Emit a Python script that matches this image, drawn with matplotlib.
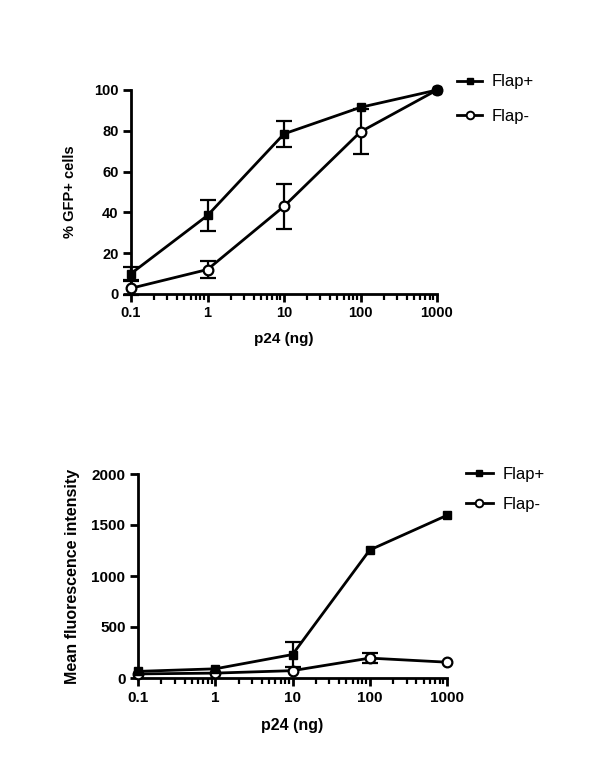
import matplotlib
matplotlib.use("Agg")
import matplotlib.pyplot as plt
from matplotlib.lines import Line2D
from matplotlib.ticker import LogLocator, FixedLocator, NullFormatter

plt.rcParams['font.family'] = ['Liberation Sans', 'DejaVu Sans']

# ---- data ----
doses = [0.1, 1, 10, 100, 1000]
dose_labels = ["0.1", "1", "10", "100", "1000"]

gfp_flap_plus = [10.0, 38.5, 78.5, 91.5, 100.0]
gfp_flap_plus_err = [3.0, 7.5, 6.5, 0.0, 0.0]
gfp_flap_minus = [2.8, 12.0, 43.0, 79.5, 100.0]
gfp_flap_minus_err = [3.5, 4.0, 11.0, 11.0, 0.0]

mfi_flap_plus = [65, 90, 230, 1255, 1595]
mfi_flap_plus_err = [0, 0, 120, 0, 0]
mfi_flap_minus = [40, 48, 72, 195, 155]
mfi_flap_minus_err = [0, 0, 0, 48, 0]

series_names = ["Flap+", "Flap-"]
gfp_yticks = [0, 20, 40, 60, 80, 100]
mfi_yticks = [0, 500, 1000, 1500, 2000]

W, H = 600, 781
fig = plt.figure(figsize=(W / 100, H / 100), dpi=100)


def px_axes(left, right, top, bottom):
    return fig.add_axes([left / W, 1 - bottom / H, (right - left) / W, (bottom - top) / H])


def style_axes(ax, yticks, ymax, tick_fs, label_fs, ylab_fs, ylabel, xlabel_pad, ylabel_pad):
    ax.set_xscale('log')
    ax.set_xlim(0.1, 1000)
    ax.set_ylim(0, ymax)
    ax.spines['top'].set_visible(False)
    ax.spines['right'].set_visible(False)
    for s in ('left', 'bottom'):
        ax.spines[s].set_linewidth(2.0)
    ax.xaxis.set_major_locator(FixedLocator(doses))
    ax.set_xticklabels(dose_labels, fontsize=tick_fs, fontweight='bold')
    ax.xaxis.set_minor_locator(LogLocator(base=10, subs=range(2, 10)))
    ax.xaxis.set_minor_formatter(NullFormatter())
    ax.set_yticks(yticks)
    ax.set_yticklabels([str(v) for v in yticks], fontsize=tick_fs, fontweight='bold')
    ax.tick_params(axis='both', which='major', direction='out', length=6, width=2.0, pad=3)
    ax.tick_params(axis='x', which='minor', direction='out', length=4, width=1.6)
    ax.set_xlabel('p24 (ng)', fontsize=label_fs, fontweight='bold', labelpad=xlabel_pad)
    ax.set_ylabel(ylabel, fontsize=ylab_fs, fontweight='bold', labelpad=ylabel_pad)


def errs(ax, ys, es, z):
    xs = [x for x, e in zip(doses, es) if e > 0]
    yv = [y for y, e in zip(ys, es) if e > 0]
    ev = [e for e in es if e > 0]
    if xs:
        ax.errorbar(xs, yv, yerr=ev, fmt='none', ecolor='black', capsize=6,
                    capthick=1.6, elinewidth=1.6, clip_on=False, zorder=z)


def draw(ax, plus, plus_err, minus, minus_err, ms_sq, ms_ci):
    errs(ax, minus, minus_err, 2.5)
    ax.plot(doses, minus, color='black', lw=2.0, marker='o', ms=ms_ci, mfc='white',
            mec='black', mew=1.6, clip_on=False, zorder=3)
    errs(ax, plus, plus_err, 3.5)
    ax.plot(doses, plus, color='black', lw=2.0, marker='s', ms=ms_sq, mfc='black',
            mec='black', clip_on=False, zorder=4)


def legend_handles():
    return [
        Line2D([], [], color='black', lw=2.0, marker='s', ms=5, mfc='black', mec='black'),
        Line2D([], [], color='black', lw=2.0, marker='o', ms=5.5, mfc='white', mec='black', mew=1.4),
    ]


# ---- top panel ----
ax1 = px_axes(131, 437, 90, 294)
draw(ax1, gfp_flap_plus, gfp_flap_plus_err, gfp_flap_minus, gfp_flap_minus_err, 6, 7)
style_axes(ax1, gfp_yticks, 100, 10.5, 11, 10.5, '% GFP+ cells', 8, 12)
fig.legend(legend_handles(), series_names, loc='center left',
           bbox_to_anchor=(457 / W, 1 - 99 / H),
           frameon=False, fontsize=12, handlelength=1.5, handletextpad=0.6,
           labelspacing=1.15, borderpad=0, borderaxespad=0)

# ---- bottom panel ----
ax2 = px_axes(138, 447, 474, 678)
draw(ax2, mfi_flap_plus, mfi_flap_plus_err, mfi_flap_minus, mfi_flap_minus_err, 6, 7)
style_axes(ax2, mfi_yticks, 2000, 11, 11.5, 11.5, 'Mean fluorescence intensity', 10, 8)
fig.legend(legend_handles(), series_names, loc='center left',
           bbox_to_anchor=(466 / W, 1 - 489 / H),
           frameon=False, fontsize=12, handlelength=1.6, handletextpad=0.6,
           labelspacing=0.9, borderpad=0, borderaxespad=0)

fig.savefig('out.png', dpi=100, facecolor='white')
